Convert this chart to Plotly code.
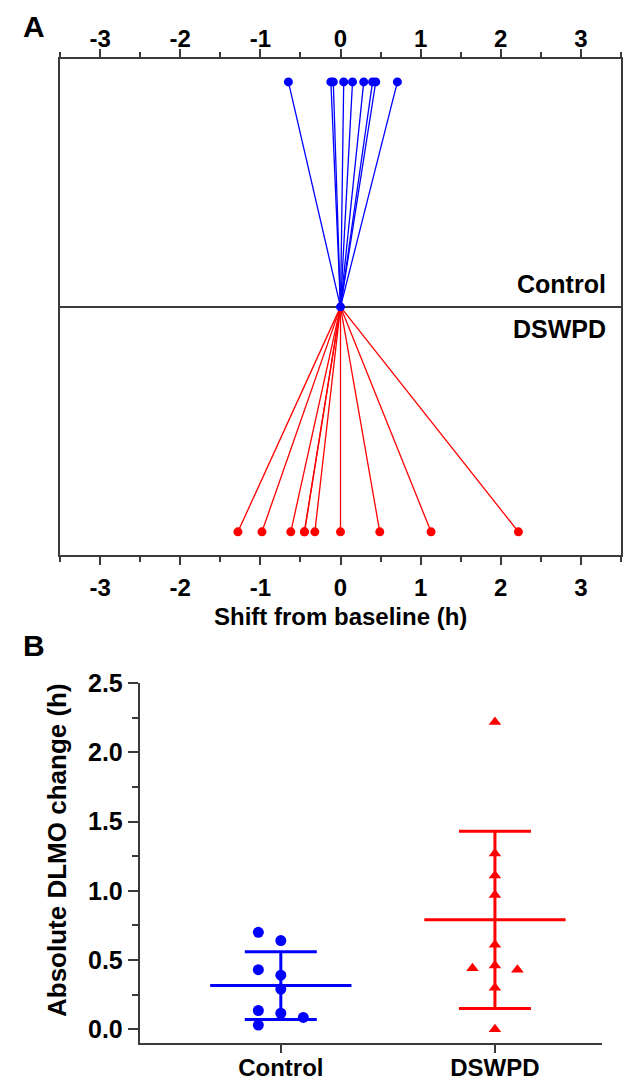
import plotly.graph_objects as go

# Panel A: individual DLMO shift from baseline (h)
control_shift = [-0.65, -0.12, -0.09, 0.04, 0.15, 0.29, 0.40, 0.44, 0.71]
dswpd_shift = [-1.28, -0.98, -0.62, -0.45, -0.45, -0.32, 0.0, 0.49, 1.13, 2.22]
shift_ticks = [-3, -2, -1, 0, 1, 2, 3]
shift_labels = ["-3", "-2", "-1", "0", "1", "2", "3"]

# Panel B: absolute DLMO change (h), column = scatter column (-1 left, 0 centre, 1 right)
groups = ["Control", "DSWPD"]
control_abs = [0.70, 0.64, 0.43, 0.39, 0.29, 0.135, 0.115, 0.085, 0.03]
control_col = [-1, 0, -1, 0, 0, -1, 0, 1, -1]
dswpd_abs = [2.22, 1.27, 1.11, 0.97, 0.61, 0.46, 0.44, 0.43, 0.30, 0.0]
dswpd_col = [0, 0, 0, 0, 0, 0, -1, 1, 0, 0]
group_mean = [0.315, 0.79]
group_sd = [0.245, 0.64]

BLUE = "#0000FF"
RED = "#FF0000"
AX = "#3a3a3a"
FONT = "Arial"
W, H = 628, 1082
JIT = 0.105


def bold(size):
    return dict(family=FONT, size=size, color="black", weight="bold")


fig = go.Figure()

# ── Panel A: fans from centre ─────────────────────────
for shifts, yv, color in [(dswpd_shift, -1, RED), (control_shift, 1, BLUE)]:
    lx, ly = [], []
    for v in shifts:
        lx += [0, v, None]
        ly += [0, yv, None]
    fig.add_trace(go.Scatter(x=lx, y=ly, mode="lines", xaxis="x", yaxis="y",
                             line=dict(color=color, width=1.3), hoverinfo="skip"))
    fig.add_trace(go.Scatter(x=shifts, y=[yv] * len(shifts), mode="markers",
                             xaxis="x", yaxis="y",
                             marker=dict(color=color, size=9)))
fig.add_trace(go.Scatter(x=[0], y=[0], mode="markers", xaxis="x", yaxis="y",
                         marker=dict(color=BLUE, size=9)))
# invisible trace so the top axis is drawn
fig.add_trace(go.Scatter(x=[0], y=[0], mode="markers", xaxis="x3", yaxis="y",
                         marker=dict(size=1, opacity=0), hoverinfo="skip"))

# ── Panel B: scatter + mean ± SD ──────────────────────
for i, (vals, cols, color, sym) in enumerate([
        (control_abs, control_col, BLUE, "circle"),
        (dswpd_abs, dswpd_col, RED, "triangle-up")]):
    pos = i + 1
    fig.add_trace(go.Scatter(x=[pos - 0.33, pos + 0.33], y=[group_mean[i]] * 2,
                             mode="lines", xaxis="x2", yaxis="y2",
                             line=dict(color=color, width=3)))
    fig.add_trace(go.Scatter(x=[pos], y=[group_mean[i]], mode="markers",
                             xaxis="x2", yaxis="y2", marker=dict(size=1, opacity=0),
                             error_y=dict(type="data", array=[group_sd[i]], color=color,
                                          thickness=3, width=36)))
    fig.add_trace(go.Scatter(x=[pos + c * JIT for c in cols], y=vals, mode="markers",
                             xaxis="x2", yaxis="y2",
                             marker=dict(color=color, size=11, symbol=sym)))

tick_a = dict(range=[-3.5, 3.5], tickvals=shift_ticks, ticktext=shift_labels,
              ticks="outside", ticklen=8, tickwidth=1.5, tickcolor=AX,
              showline=True, linecolor=AX, linewidth=1.5, showgrid=False,
              zeroline=False, tickfont=bold(24), automargin=False,
              minor=dict(dtick=0.5, tick0=-3.5, ticks="outside", ticklen=5,
                         tickcolor=AX, tickwidth=1.5, showgrid=False))

fig.update_layout(
    width=W, height=H, showlegend=False,
    paper_bgcolor="white", plot_bgcolor="white",
    margin=dict(l=0, r=0, t=0, b=0, autoexpand=False),
    xaxis=dict(domain=[60 / W, 621 / W], anchor="y", side="bottom",
               ticklabelstandoff=2, **tick_a),
    xaxis3=dict(overlaying="x", anchor="y", side="top", matches="x",
                ticklabelstandoff=-8, **tick_a),
    yaxis=dict(domain=[1 - 555 / H, 1 - 58.5 / H], range=[-1.103, 1.104],
               showline=True, mirror=True, linecolor=AX, linewidth=1.5,
               ticks="", showticklabels=False, showgrid=False, automargin=False,
               zeroline=True, zerolinecolor=AX, zerolinewidth=1.5),
    xaxis2=dict(domain=[139.5 / W, 602 / W], anchor="y2", range=[0.34, 2.5],
                tickvals=[1, 2], ticktext=groups, ticks="outside", ticklen=8,
                tickwidth=1.5, tickcolor=AX, showline=True, linecolor=AX,
                linewidth=1.5, showgrid=False, zeroline=False, tickfont=bold(24),
                ticklabelstandoff=-6, automargin=False),
    yaxis2=dict(domain=[1 - 1043 / H, 1 - 683.3 / H], anchor="x2", range=[-0.1, 2.5],
                tickvals=[0, 0.5, 1.0, 1.5, 2.0, 2.5], tickformat=".1f",
                ticks="outside", ticklen=10, tickwidth=1.5, tickcolor=AX,
                showline=True, linecolor=AX, linewidth=1.5, showgrid=False,
                zeroline=False, tickfont=bold(25), automargin=False,
                minor=dict(tickvals=[0.25, 0.75, 1.25, 1.75, 2.25], ticks="outside",
                           ticklen=6, tickcolor=AX, tickwidth=1.5, showgrid=False)),
    annotations=[
        dict(text="A", x=21 / W, y=1 - 27 / H, xref="paper", yref="paper",
             xanchor="left", yanchor="middle", showarrow=False, font=bold(30)),
        dict(text="B", x=21 / W, y=1 - 645 / H, xref="paper", yref="paper",
             xanchor="left", yanchor="middle", showarrow=False, font=bold(30)),
        dict(text="Control", x=608 / W, y=1 - 284 / H, xref="paper", yref="paper",
             xanchor="right", yanchor="middle", showarrow=False, font=bold(25)),
        dict(text="DSWPD", x=608 / W, y=1 - 329 / H, xref="paper", yref="paper",
             xanchor="right", yanchor="middle", showarrow=False, font=bold(25)),
        # axis titles
        dict(text="Shift from baseline (h)", x=340 / W, y=1 - 616 / H,
             xref="paper", yref="paper", xanchor="center", yanchor="middle",
             showarrow=False, font=bold(24)),
        dict(text="Absolute DLMO change (h)", x=57 / W, y=1 - 850 / H,
             xref="paper", yref="paper", xanchor="center", yanchor="middle",
             textangle=-90, showarrow=False, font=bold(26)),
    ],
)

# page body has a default 8px margin; drop it so the figure fills the window
fig.write_html("out.html", config={"displayModeBar": False},
               post_script="document.body.style.margin='0';")
